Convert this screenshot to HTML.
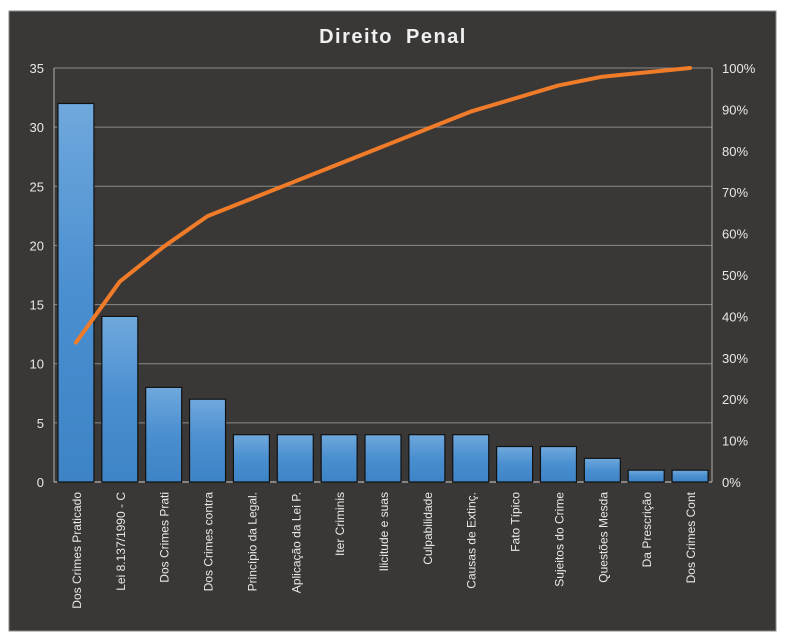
<!DOCTYPE html>
<html><head><meta charset="utf-8"><style>
html,body{margin:0;padding:0;background:#fff;width:790px;height:635px;overflow:hidden}
svg{display:block;font-family:"Liberation Sans",sans-serif}
</style></head><body>
<svg id="chart" width="790" height="635">
<defs><linearGradient id="bg" x1="0" y1="0" x2="0" y2="1"><stop offset="0" stop-color="#6fa8dc"/><stop offset="0.5" stop-color="#4a8fd0"/><stop offset="1" stop-color="#3d84c6"/></linearGradient></defs>
<rect x="9" y="11" width="767" height="620" fill="#3a3836" stroke="#888"/>
<text x="393" y="43" text-anchor="middle" fill="#f0f0f0" font-size="20" font-weight="bold" letter-spacing="1.5" word-spacing="6">Direito Penal</text>
<g id="grid"></g><g id="bars"></g><g id="line"></g><g id="axes"></g>
</svg>
<script>
const categories=["Dos Crimes Praticado","Lei 8.137/1990 - C","Dos Crimes Prati","Dos Crimes contra","Princípio da Legal.","Aplicação da Lei P.","Iter Criminis","Ilicitude e suas","Culpabilidade","Causas de Extinç.","Fato Típico","Sujeitos do Crime","Questões Mesda","Da Prescrição","Dos Crimes Cont"];
const counts=[32,14,8,7,4,4,4,4,4,4,3,3,2,1,1];
const leftTicks=[0,5,10,15,20,25,30,35];
const rightTicks=[0,10,20,30,40,50,60,70,80,90,100];
const NS="http://www.w3.org/2000/svg";
const X0=54,X1=712,Y0=482,Y1=68,YMAX=35;
const y=v=>Y0-(v/YMAX)*(Y0-Y1);
const yp=p=>Y0-(p/100)*(Y0-Y1);
const step=(X1-X0)/categories.length;
const xc=i=>X0+step*(i+0.5);
function mk(tag,attrs,parent){const e=document.createElementNS(NS,tag);for(const k in attrs)e.setAttribute(k,attrs[k]);document.getElementById(parent).appendChild(e);return e;}
leftTicks.forEach(t=>{
 const l=mk('line',{x1:X0,x2:X1,y1:y(t),y2:y(t),stroke:t===0?'#d0d0d0':'#8a8a8a','stroke-width':1},'grid');
 
 
 const tx=mk('text',{x:44,y:y(t)+5,'text-anchor':'end',fill:'#e8e8e8','font-size':13},'axes');
 tx.textContent=t;
 
 
});
rightTicks.forEach(t=>{
 const tx=mk('text',{x:722,y:yp(t)+5,fill:'#e8e8e8','font-size':13},'axes');
 tx.textContent=t+'%';
 
 
});
const la=mk('line',{x1:X0,x2:X0,y1:Y1,y2:Y0,stroke:'#b0b0b0'},'axes');


const ra=mk('line',{x1:X1,x2:X1,y1:Y1,y2:Y0,stroke:'#b0b0b0'},'axes');


const total=counts.reduce((a,b)=>a+b,0);
let cum=0;const pts=[];
categories.forEach((c,i)=>{
 const bw=36;
 const r=mk('rect',{x:xc(i)-bw/2,y:y(counts[i]),width:bw,height:Y0-y(counts[i]),fill:'url(#bg)',stroke:'#111','stroke-width':1.2},'bars');
 
 
 cum+=counts[i];pts.push(xc(i)+','+yp(cum/total*100));
 const tx=mk('text',{transform:`translate(${xc(i)+5},492) rotate(-90)`,'text-anchor':'end',fill:'#e8e8e8','font-size':12},'axes');
 tx.textContent=c;
 
 
});
const pl=mk('polyline',{points:pts.join(' '),fill:'none',stroke:'#f07c2a','stroke-width':4,'stroke-linejoin':'round','stroke-linecap':'round'},'line');


</script>
</body></html>
